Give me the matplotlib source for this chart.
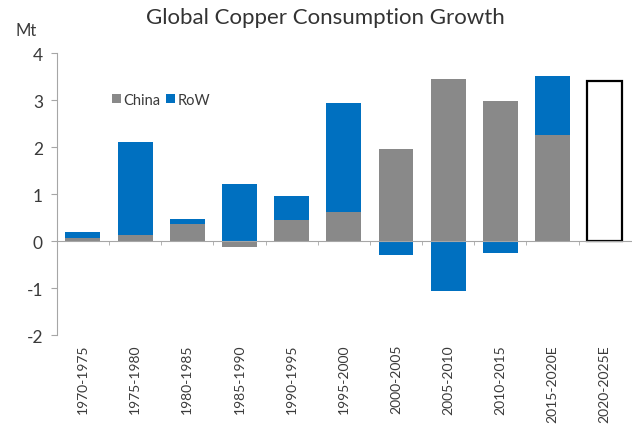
import numpy as np
from matplotlib import pyplot as plt
from matplotlib.patches import Patch

# 5-year copper consumption growth, Mt
periods = ['1970-1975', '1975-1980', '1980-1985', '1985-1990', '1990-1995',
           '1995-2000', '2000-2005', '2005-2010', '2010-2015', '2015-2020E',
           '2020-2025E']
china = [0.06, 0.13, 0.36, -0.13, 0.45, 0.61, 1.97, 3.45, 2.98, 2.26, np.nan]
row = [0.13, 1.97, 0.12, 1.21, 0.50, 2.33, -0.30, -1.07, -0.25, 1.26, np.nan]
total_2025 = 3.41  # forecast, no split

grey = '#898989'
blue = '#0070C0'
txt = '#3a3a3a'

plt.rcParams['font.family'] = ['Lato', 'DejaVu Sans']

fig = plt.figure(figsize=(6.32, 4.27), dpi=100)
ax = fig.add_axes([0.09, 0.213, 0.908, 0.660])

x = np.arange(len(periods))
china_arr = np.array(china)
row_arr = np.array(row)
w = 0.67

# positive parts stack upward, negatives hang below zero
row_base = np.where((row_arr >= 0) & (china_arr > 0), china_arr, 0)
ax.bar(x, china_arr, width=w, color=grey, zorder=2)
ax.bar(x, row_arr, width=w, bottom=row_base, color=blue, zorder=2)
ax.bar(x[-1], total_2025, width=w, facecolor='white', edgecolor='black',
       linewidth=1.6, zorder=2)

ax.set_xlim(-0.5, len(periods) - 0.5)
ax.set_ylim(-2, 4)
ax.set_yticks([-2, -1, 0, 1, 2, 3, 4])
ax.set_yticklabels(['-2', '-1', '0', '1', '2', '3', '4'])

for s in ['top', 'right']:
    ax.spines[s].set_visible(False)
ax.spines['left'].set_color('#a6a6a6')
ax.spines['bottom'].set_color('#a6a6a6')
ax.spines['bottom'].set_position(('data', 0))

ax.set_xticks(x)
ax.set_xticklabels(periods, rotation=90, va='top', fontsize=10, color=txt)
ax.set_xticks(x[:-1] + 0.5, minor=True)
ax.tick_params(axis='x', which='major', length=0, pad=74)
ax.tick_params(axis='x', which='minor', length=3, color='#a6a6a6', direction='out')
ax.tick_params(axis='y', length=4, color='#a6a6a6', labelsize=12.5, labelcolor=txt, pad=6)

fig.text(0.515, 0.957, 'Global Copper Consumption Growth', ha='center', va='center',
         fontsize=16, color='#333333')
fig.text(0.024, 0.928, 'Mt', ha='left', va='center', fontsize=12, color=txt)

handles = [Patch(facecolor=grey), Patch(facecolor=blue)]
leg = ax.legend(handles, ['China', 'RoW'], loc='upper left', bbox_to_anchor=(0.083, 0.885),
                ncol=2, frameon=False, fontsize=10.5, handlelength=0.6, handleheight=0.6,
                handletextpad=0.2, columnspacing=0.4, borderpad=0)
for t in leg.get_texts():
    t.set_color(txt)

plt.savefig('out.png', dpi=100)
